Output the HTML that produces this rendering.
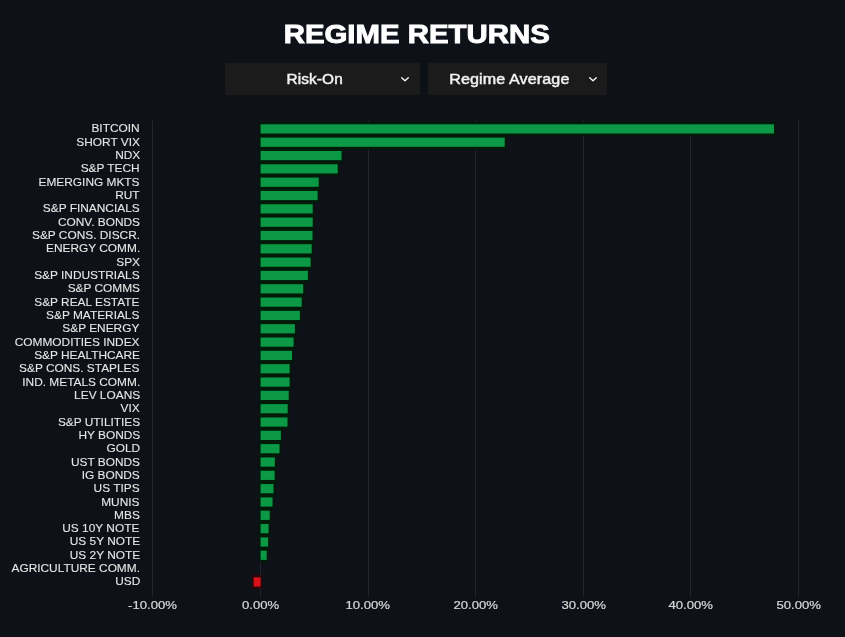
<!DOCTYPE html>
<html><head><meta charset="utf-8"><style>
html,body{margin:0;padding:0;}
body{will-change:transform;width:845px;height:637px;overflow:hidden;background:#0e1118;position:relative;font-family:"Liberation Sans",sans-serif;}
.title{position:absolute;left:0;width:833px;top:17px;text-align:center;color:#fff;font-weight:bold;font-size:26px;line-height:34px;}
.title span{display:inline-block;transform:scaleX(1.13);transform-origin:center;-webkit-text-stroke:0.9px #fff;}
.dd{position:absolute;top:63px;height:32px;background:#1b1b1b;color:#f2f2f2;font-size:14px;-webkit-text-stroke:0.45px #f2f2f2;}
.dd .t{position:absolute;top:0;line-height:32px;text-align:center;}
.dd .t span{display:inline-block;}
.dd svg{position:absolute;top:76px;}
.yl span{display:inline-block;transform:scaleX(1.08);transform-origin:100% 50%;}
.yl{position:absolute;right:705.2px;height:14px;line-height:14px;font-size:11px;color:#e6e6e6;-webkit-text-stroke:0.1px #e6e6e6;white-space:nowrap;}
.xl span{display:inline-block;transform:scaleX(1.19);}
.xl{position:absolute;top:598px;width:80px;text-align:center;font-size:11px;color:#d8d8d8;-webkit-text-stroke:0.2px #d8d8d8;line-height:14px;}
svg.chart{position:absolute;left:0;top:0;}
</style></head><body>
<div class="title"><span>REGIME RETURNS</span></div>
<div class="dd" style="left:225px;width:194.5px;"><div class="t" style="left:1.5px;width:176px;"><span style="transform:scaleX(1.1);letter-spacing:0.1px">Risk-On</span></div></div>
<div class="dd" style="left:427.5px;width:179.5px;"><div class="t" style="left:1.5px;width:161px;"><span style="transform:scaleX(1.15);letter-spacing:0.1px">Regime Average</span></div></div>
<svg width="845" height="637" style="position:absolute;left:0;top:0" viewBox="0 0 845 637">
<path d="M401.7 77.7 L405 80.8 L408.3 77.7" fill="none" stroke="#fff" stroke-width="1.25" stroke-linecap="round" stroke-linejoin="round"/>
<path d="M589.7 77.7 L593 80.8 L596.3 77.7" fill="none" stroke="#fff" stroke-width="1.25" stroke-linecap="round" stroke-linejoin="round"/>
</svg>
<svg class="chart" width="845" height="637" viewBox="0 0 845 637">
<rect x="152" y="120.5" width="1" height="476.5" fill="#24262e"/>
<rect x="260" y="120.5" width="1" height="476.5" fill="#24262e"/>
<rect x="368" y="120.5" width="1" height="476.5" fill="#24262e"/>
<rect x="475" y="120.5" width="1" height="476.5" fill="#24262e"/>
<rect x="583" y="120.5" width="1" height="476.5" fill="#24262e"/>
<rect x="690" y="120.5" width="1" height="476.5" fill="#24262e"/>
<rect x="798" y="120.5" width="1" height="476.5" fill="#24262e"/>
<rect x="258.80" y="121.80" width="517.00" height="14.20" fill="#021a0a"/>
<rect x="258.80" y="135.12" width="247.70" height="14.20" fill="#021a0a"/>
<rect x="258.80" y="148.45" width="84.50" height="14.20" fill="#021a0a"/>
<rect x="258.80" y="161.77" width="80.70" height="14.20" fill="#021a0a"/>
<rect x="258.80" y="175.10" width="61.70" height="14.20" fill="#021a0a"/>
<rect x="258.80" y="188.43" width="60.60" height="14.20" fill="#021a0a"/>
<rect x="258.80" y="201.75" width="55.70" height="14.20" fill="#021a0a"/>
<rect x="258.80" y="215.07" width="55.70" height="14.20" fill="#021a0a"/>
<rect x="258.80" y="228.40" width="55.50" height="14.20" fill="#021a0a"/>
<rect x="258.80" y="241.72" width="54.70" height="14.20" fill="#021a0a"/>
<rect x="258.80" y="255.05" width="53.60" height="14.20" fill="#021a0a"/>
<rect x="258.80" y="268.38" width="50.90" height="14.20" fill="#021a0a"/>
<rect x="258.80" y="281.70" width="46.20" height="14.20" fill="#021a0a"/>
<rect x="258.80" y="295.02" width="44.70" height="14.20" fill="#021a0a"/>
<rect x="258.80" y="308.35" width="42.90" height="14.20" fill="#021a0a"/>
<rect x="258.80" y="321.68" width="37.90" height="14.20" fill="#021a0a"/>
<rect x="258.80" y="335.00" width="36.60" height="14.20" fill="#021a0a"/>
<rect x="258.80" y="348.32" width="35.00" height="14.20" fill="#021a0a"/>
<rect x="258.80" y="361.65" width="32.60" height="14.20" fill="#021a0a"/>
<rect x="258.80" y="374.97" width="32.60" height="14.20" fill="#021a0a"/>
<rect x="258.80" y="388.30" width="31.70" height="14.20" fill="#021a0a"/>
<rect x="258.80" y="401.62" width="30.70" height="14.20" fill="#021a0a"/>
<rect x="258.80" y="414.95" width="30.50" height="14.20" fill="#021a0a"/>
<rect x="258.80" y="428.27" width="23.90" height="14.20" fill="#021a0a"/>
<rect x="258.80" y="441.60" width="22.50" height="14.20" fill="#021a0a"/>
<rect x="258.80" y="454.93" width="17.80" height="14.20" fill="#021a0a"/>
<rect x="258.80" y="468.25" width="17.60" height="14.20" fill="#021a0a"/>
<rect x="258.80" y="481.57" width="16.50" height="14.20" fill="#021a0a"/>
<rect x="258.80" y="494.90" width="15.50" height="14.20" fill="#021a0a"/>
<rect x="258.80" y="508.22" width="12.70" height="14.20" fill="#021a0a"/>
<rect x="258.80" y="521.55" width="11.60" height="14.20" fill="#021a0a"/>
<rect x="258.80" y="534.88" width="11.10" height="14.20" fill="#021a0a"/>
<rect x="258.80" y="548.20" width="9.70" height="14.20" fill="#021a0a"/>
<rect x="251.90" y="574.85" width="10.50" height="14.20" fill="#2a080b"/>
<rect x="260.60" y="124.30" width="513.40" height="9.2" fill="#0c9946"/>
<rect x="260.60" y="137.62" width="244.10" height="9.2" fill="#0c9946"/>
<rect x="260.60" y="150.95" width="80.90" height="9.2" fill="#0c9946"/>
<rect x="260.60" y="164.27" width="77.10" height="9.2" fill="#0c9946"/>
<rect x="260.60" y="177.60" width="58.10" height="9.2" fill="#0c9946"/>
<rect x="260.60" y="190.93" width="57.00" height="9.2" fill="#0c9946"/>
<rect x="260.60" y="204.25" width="52.10" height="9.2" fill="#0c9946"/>
<rect x="260.60" y="217.57" width="52.10" height="9.2" fill="#0c9946"/>
<rect x="260.60" y="230.90" width="51.90" height="9.2" fill="#0c9946"/>
<rect x="260.60" y="244.22" width="51.10" height="9.2" fill="#0c9946"/>
<rect x="260.60" y="257.55" width="50.00" height="9.2" fill="#0c9946"/>
<rect x="260.60" y="270.88" width="47.30" height="9.2" fill="#0c9946"/>
<rect x="260.60" y="284.20" width="42.60" height="9.2" fill="#0c9946"/>
<rect x="260.60" y="297.52" width="41.10" height="9.2" fill="#0c9946"/>
<rect x="260.60" y="310.85" width="39.30" height="9.2" fill="#0c9946"/>
<rect x="260.60" y="324.18" width="34.30" height="9.2" fill="#0c9946"/>
<rect x="260.60" y="337.50" width="33.00" height="9.2" fill="#0c9946"/>
<rect x="260.60" y="350.82" width="31.40" height="9.2" fill="#0c9946"/>
<rect x="260.60" y="364.15" width="29.00" height="9.2" fill="#0c9946"/>
<rect x="260.60" y="377.47" width="29.00" height="9.2" fill="#0c9946"/>
<rect x="260.60" y="390.80" width="28.10" height="9.2" fill="#0c9946"/>
<rect x="260.60" y="404.12" width="27.10" height="9.2" fill="#0c9946"/>
<rect x="260.60" y="417.45" width="26.90" height="9.2" fill="#0c9946"/>
<rect x="260.60" y="430.77" width="20.30" height="9.2" fill="#0c9946"/>
<rect x="260.60" y="444.10" width="18.90" height="9.2" fill="#0c9946"/>
<rect x="260.60" y="457.43" width="14.20" height="9.2" fill="#0c9946"/>
<rect x="260.60" y="470.75" width="14.00" height="9.2" fill="#0c9946"/>
<rect x="260.60" y="484.07" width="12.90" height="9.2" fill="#0c9946"/>
<rect x="260.60" y="497.40" width="11.90" height="9.2" fill="#0c9946"/>
<rect x="260.60" y="510.72" width="9.10" height="9.2" fill="#0c9946"/>
<rect x="260.60" y="524.05" width="8.00" height="9.2" fill="#0c9946"/>
<rect x="260.60" y="537.38" width="7.50" height="9.2" fill="#0c9946"/>
<rect x="260.60" y="550.70" width="6.10" height="9.2" fill="#0c9946"/>
<rect x="253.70" y="577.35" width="6.90" height="9.2" fill="#d8111b"/>
</svg>
<div class="yl" style="top:121.40px"><span>BITCOIN</span></div>
<div class="yl" style="top:134.72px"><span>SHORT VIX</span></div>
<div class="yl" style="top:148.05px"><span>NDX</span></div>
<div class="yl" style="top:161.37px"><span>S&amp;P TECH</span></div>
<div class="yl" style="top:174.70px"><span>EMERGING MKTS</span></div>
<div class="yl" style="top:188.03px"><span>RUT</span></div>
<div class="yl" style="top:201.35px"><span>S&amp;P FINANCIALS</span></div>
<div class="yl" style="top:214.67px"><span>CONV. BONDS</span></div>
<div class="yl" style="top:228.00px"><span>S&amp;P CONS. DISCR.</span></div>
<div class="yl" style="top:241.32px"><span>ENERGY COMM.</span></div>
<div class="yl" style="top:254.65px"><span>SPX</span></div>
<div class="yl" style="top:267.98px"><span>S&amp;P INDUSTRIALS</span></div>
<div class="yl" style="top:281.30px"><span>S&amp;P COMMS</span></div>
<div class="yl" style="top:294.62px"><span>S&amp;P REAL ESTATE</span></div>
<div class="yl" style="top:307.95px"><span>S&amp;P MATERIALS</span></div>
<div class="yl" style="top:321.28px"><span>S&amp;P ENERGY</span></div>
<div class="yl" style="top:334.60px"><span>COMMODITIES INDEX</span></div>
<div class="yl" style="top:347.93px"><span>S&amp;P HEALTHCARE</span></div>
<div class="yl" style="top:361.25px"><span>S&amp;P CONS. STAPLES</span></div>
<div class="yl" style="top:374.57px"><span>IND. METALS COMM.</span></div>
<div class="yl" style="top:387.90px"><span>LEV LOANS</span></div>
<div class="yl" style="top:401.23px"><span>VIX</span></div>
<div class="yl" style="top:414.55px"><span>S&amp;P UTILITIES</span></div>
<div class="yl" style="top:427.88px"><span>HY BONDS</span></div>
<div class="yl" style="top:441.20px"><span>GOLD</span></div>
<div class="yl" style="top:454.53px"><span>UST BONDS</span></div>
<div class="yl" style="top:467.85px"><span>IG BONDS</span></div>
<div class="yl" style="top:481.18px"><span>US TIPS</span></div>
<div class="yl" style="top:494.50px"><span>MUNIS</span></div>
<div class="yl" style="top:507.82px"><span>MBS</span></div>
<div class="yl" style="top:521.15px"><span>US 10Y NOTE</span></div>
<div class="yl" style="top:534.48px"><span>US 5Y NOTE</span></div>
<div class="yl" style="top:547.80px"><span>US 2Y NOTE</span></div>
<div class="yl" style="top:561.12px"><span>AGRICULTURE COMM.</span></div>
<div class="yl" style="top:574.45px"><span>USD</span></div>
<div class="xl" style="left:112.50px"><span>-10.00%</span></div>
<div class="xl" style="left:220.17px"><span>0.00%</span></div>
<div class="xl" style="left:327.84px"><span>10.00%</span></div>
<div class="xl" style="left:435.51px"><span>20.00%</span></div>
<div class="xl" style="left:543.18px"><span>30.00%</span></div>
<div class="xl" style="left:650.85px"><span>40.00%</span></div>
<div class="xl" style="left:758.52px"><span>50.00%</span></div>
</body></html>
